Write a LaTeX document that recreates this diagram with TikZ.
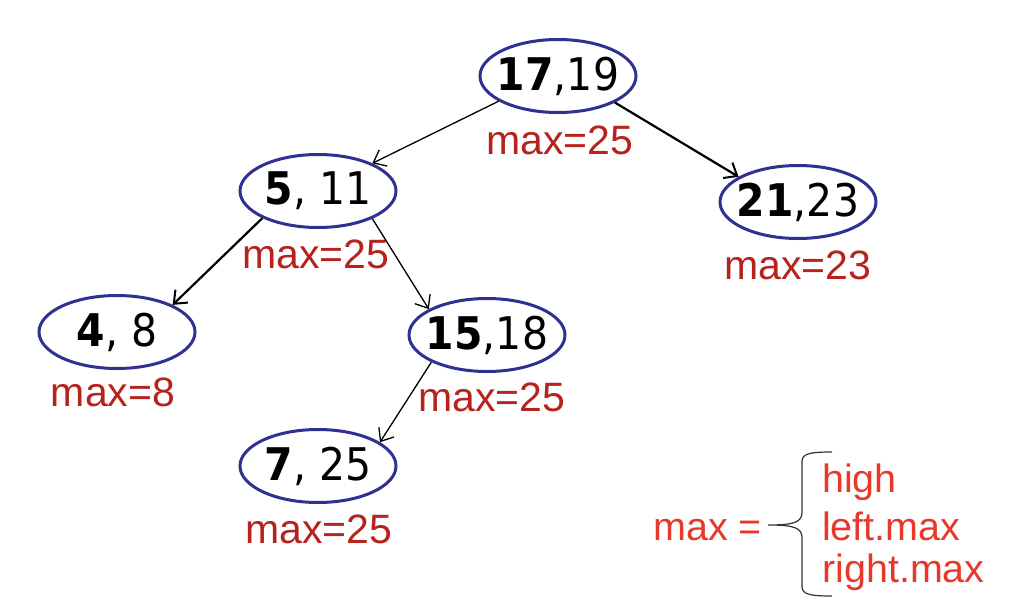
\documentclass[tikz,border=0pt]{standalone}
\usepackage{fontspec}
\setmainfont{Liberation Sans}
\newfontfamily\nodefont{DejaVu Sans}
\usetikzlibrary{shapes.geometric,arrows.meta}
\definecolor{ringblue}{HTML}{2E3192}
\definecolor{lblred}{HTML}{B5231C}
\definecolor{brred}{HTML}{E8382A}
\tikzset{
  keynode/.style={ellipse,draw=ringblue,line width=3pt,minimum width=156pt,minimum height=73pt,inner sep=0pt,
    font=\nodefont\fontsize{45}{52}\selectfont},
  maxlbl/.style={anchor=base,text=lblred,inner sep=0pt,font=\fontsize{41}{47}\selectfont},
  thin edge/.style={line width=1.3pt,-{Straight Barb[length=11pt,width=18pt,line width=1.3pt]}},
  thick edge/.style={line width=2.2pt,-{Straight Barb[length=11pt,width=18pt,line width=2pt]}},
  eqtext/.style={anchor=base west,text=brred,inner sep=0pt,font=\fontsize{39.5}{45}\selectfont},
}
\newcommand{\kv}[2]{\makebox[0pt][c]{\scalebox{0.91}[1]{\textbf{#1},#2}}}
\begin{document}
\begin{tikzpicture}[x=1pt,y=-1pt]
\useasboundingbox (0,0) rectangle (1028,600);
\node[keynode] (n17) at (558,76) {\kv{17}{19}};
\node[keynode] (n5) at (318,191) {\kv{5}{ 11}};
\node[keynode] (n21) at (798,202) {\kv{21}{23}};
\node[keynode] (n4) at (117,332) {\kv{4}{ 8}};
\node[keynode] (n15) at (487,335) {\kv{15}{18}};
\node[keynode] (n7) at (318,466) {\kv{7}{ 25}};
\node[maxlbl] (m17) at (560,154) {max=25};
\node[maxlbl] (m5) at (316,268) {max=25};
\node[maxlbl] (m21) at (798,279) {max=23};
\node[maxlbl] (m4) at (113,406) {max=8};
\node[maxlbl] (m15) at (492,411) {max=25};
\node[maxlbl] (m7) at (319,543) {max=25};
\draw[thin edge] (n17.203) -- (n5.27);
\draw[thick edge] (n17.-25) -- (n21.157);
\draw[thick edge] (n5.206) -- (n4.26);
\draw[thin edge] (n5.-27) -- (n15.156);
\draw[thin edge] (n15.206) -- (n7.21);
\node[eqtext] (eq) at (653,540) {max =};
\node[eqtext] (hi) at (822,492) {high};
\node[eqtext] (lm) at (822,540) {left.max};
\node[eqtext] (rm) at (822,582) {right.max};
\coordinate (tip) at (768,525);
\draw[line width=1.2pt,draw=black!80] (832,452) .. controls (808,452) and (802,454) .. (802,462) -- (802,512)
  .. controls (802,522) and (795,525) .. (tip)
  .. controls (795,525) and (802,528) .. (802,538) -- (802,586)
  .. controls (802,594) and (808,596) .. (832,596);
\end{tikzpicture}
\end{document}
